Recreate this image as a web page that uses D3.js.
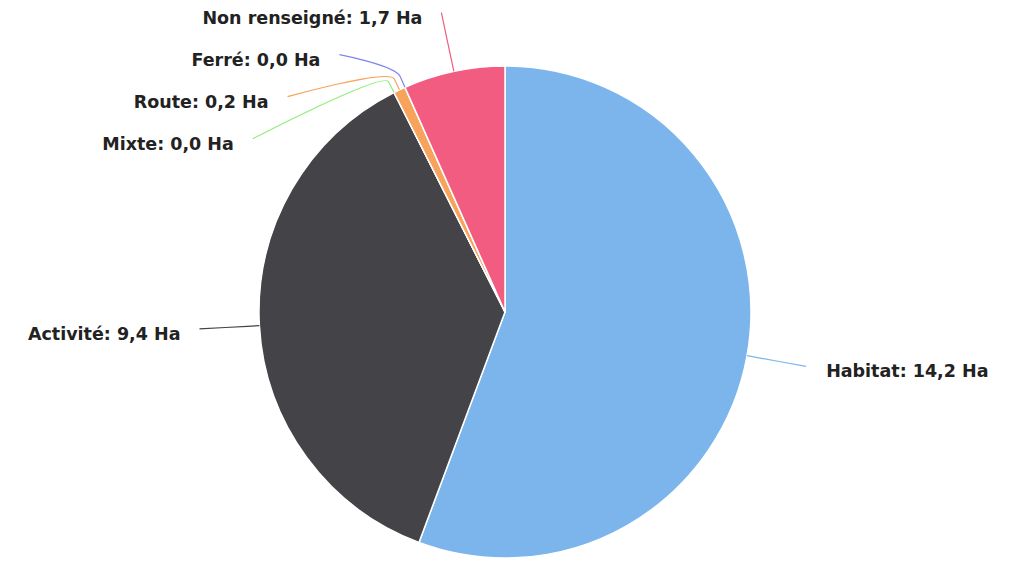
<!DOCTYPE html>
<html>
<head>
<meta charset="utf-8">
<script src="https://cdn.jsdelivr.net/npm/d3@7"></script>
<style>
  body { margin: 0; background: #fff; }
  svg { display: block; }
</style>
</head>
<body>
<svg width="1015" height="561"></svg>
<script>
const categories = ["Habitat", "Activité", "Mixte", "Route", "Ferré", "Non renseigné"];
const values = [14.2, 9.4, 0.0, 0.2, 0.0, 1.7];
const colors = ["#7cb5ec", "#434348", "#90ed7d", "#f7a35c", "#8085e9", "#f15c80"];

const svg = d3.select("svg");
const cx = 505, cy = 312, r = 246;
const labelR = 306;      // circle on which connectors start
const spacing = 42;      // min vertical gap between labels
const fmt = v => d3.format(".1f")(v).replace(".", ",");

const data = categories.map((c, i) => ({ name: c, value: values[i], color: colors[i] }));

const pie = d3.pie().sort(null).value(d => d.value);
const arcs = pie(data);
const arc = d3.arc().innerRadius(0).outerRadius(r);

const g = svg.append("g").attr("transform", `translate(${cx},${cy})`);

g.selectAll("path.slice")
    .data(arcs)
    .enter().append("path")
    .attr("class", "slice")
    .attr("d", arc)
    .attr("fill", d => d.data.color)
    .attr("stroke", "#fff")
    .attr("stroke-width", 1.5)
    .attr("stroke-linejoin", "round");

// label layout, roughly like highcharts' pie distribution
arcs.forEach(d => {
    d.mid = (d.startAngle + d.endAngle) / 2;
    d.left = d.mid > Math.PI;
    d.ly = cy - labelR * Math.cos(d.mid);
});
[true, false].forEach(side => {
    const list = arcs.filter(d => d.left === side).sort((a, b) => a.ly - b.ly);
    for (let i = 1; i < list.length; i++) {
        if (list[i].ly < list[i - 1].ly + spacing) list[i].ly = list[i - 1].ly + spacing;
    }
});
arcs.forEach(d => {
    const dy = Math.max(-labelR, Math.min(labelR, d.ly - cy));
    const dx = Math.sqrt(labelR * labelR - dy * dy);
    d.lx = d.left ? cx - dx : cx + dx;
});

const pt = (a, rad) => [cx + rad * Math.sin(a), cy - rad * Math.cos(a)];

svg.selectAll("path.connector")
    .data(arcs)
    .enter().append("path")
    .attr("class", "connector")
    .attr("fill", "none")
    .attr("stroke", d => d.data.color)
    .attr("stroke-width", 1.2)
    .attr("d", d => {
        const b = pt(d.mid, r + 12);
        const t = pt(d.mid, r);
        return `M${d.lx},${d.ly}C${d.lx},${d.ly} ${2 * b[0] - t[0]},${2 * b[1] - t[1]} ${b[0]},${b[1]}L${t[0]},${t[1]}`;
    });

svg.selectAll("text.label")
    .data(arcs)
    .enter().append("text")
    .attr("class", "label")
    .attr("x", d => d.left ? d.lx - 19 : d.lx + 20)
    .attr("y", d => d.ly + 5)
    .attr("dy", "0.35em")
    .attr("text-anchor", d => d.left ? "end" : "start")
    .style("font-family", "'DejaVu Sans', sans-serif")
    .style("font-weight", "bold")
    .style("font-size", "17.5px")
    .style("fill", "#222")
    .text(d => `${d.data.name}: ${fmt(d.data.value)} Ha`);
</script>
</body>
</html>
